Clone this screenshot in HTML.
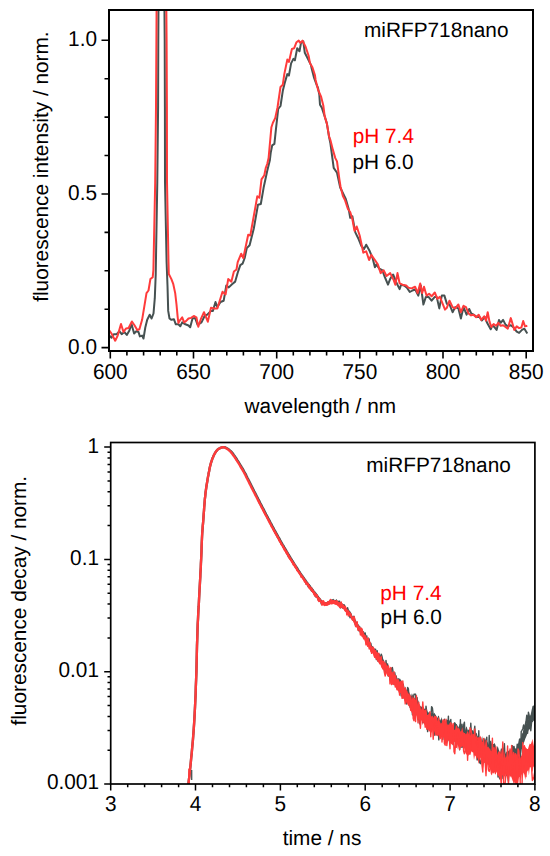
<!DOCTYPE html>
<html><head><meta charset="utf-8"><style>
html,body{margin:0;padding:0;background:#fff;}
svg{display:block;}
.t{font-family:"Liberation Sans", sans-serif;font-size:20.8px;fill:#000;text-rendering:geometricPrecision;}
</style></head><body>
<svg width="550" height="856" viewBox="0 0 550 856">
<defs><clipPath id="ct"><rect x="109" y="10" width="424" height="341"/></clipPath>
<clipPath id="cb"><rect x="110.7" y="442.5" width="424.2" height="341.5"/></clipPath></defs>
<g clip-path="url(#ct)" fill="none" stroke-width="2.0" stroke-linejoin="round">
<polyline stroke="#465151" points="109.4,335.6 111.5,337.8 113.7,334.2 116.6,334.2 119.5,331.3 121.7,334.2 124.3,332.0 126.8,334.9 129.4,330.5 131.5,324.0 134.1,333.5 136.3,331.3 138.5,332.0 139.9,336.4 142.1,335.6 143.5,338.5 145.3,327.5 147.2,319.8 149.7,314.7 151.6,318.5 153.5,313.5 154.8,298.2 155.7,275.0 157.3,182.0 158.1,107.0 158.3,40.0 158.5,5.0 164.4,5.0 164.7,40.0 164.9,107.0 165.0,182.0 166.6,262.0 167.5,285.5 168.2,310.9 169.5,318.5 171.4,319.8 173.9,319.2 175.8,324.3 178.4,324.3 180.3,326.2 182.2,322.4 185.4,324.3 188.5,325.5 190.2,327.3 192.5,318.5 195.1,317.9 197.6,324.9 201.5,322.4 204.6,316.0 207.2,314.7 211.0,310.9 212.9,310.9 215.5,302.0 217.4,307.1 220.5,302.0 223.7,300.7 226.3,285.5 228.8,287.4 232.0,284.2 235.2,281.6 237.7,272.7 240.3,265.1 242.6,263.6 244.7,258.0 246.8,248.1 249.6,245.3 253.8,228.5 258.0,204.7 260.8,204.0 263.6,187.8 267.2,171.0 269.9,160.0 270.7,152.8 272.2,145.4 274.4,143.9 276.0,128.7 278.2,109.0 280.5,106.0 282.8,90.8 285.1,81.6 287.3,74.1 288.9,75.6 291.1,63.4 293.4,58.9 294.9,60.4 297.2,48.2 299.5,51.3 301.0,42.9 303.3,41.4 304.8,52.8 307.1,57.3 310.9,64.9 311.6,68.2 314.1,78.0 316.5,84.5 318.0,88.0 319.3,94.5 320.0,104.7 321.8,107.6 324.7,116.4 326.9,123.6 329.0,136.5 330.4,143.4 333.7,167.9 337.0,172.8 340.2,187.5 343.6,194.5 345.8,198.9 348.7,209.1 350.2,217.8 352.4,216.4 355.3,232.4 358.2,238.2 361.1,245.5 364.0,249.1 366.2,244.7 369.8,251.3 372.7,258.5 374.9,267.3 376.4,264.4 379.3,268.7 382.2,270.2 384.4,276.0 388.0,284.7 390.2,278.9 393.1,274.5 396.7,283.3 399.6,289.1 401.1,284.7 404.0,285.5 406.9,287.6 409.8,292.0 412.5,290.5 415.1,289.3 418.3,295.6 420.8,285.5 423.4,304.5 425.9,296.9 428.5,296.9 431.6,300.7 434.8,296.9 436.7,296.9 439.3,308.4 441.8,295.6 444.4,295.6 446.9,303.9 449.5,304.5 452.6,312.2 455.2,307.1 458.4,308.4 460.9,318.5 463.5,307.1 466.6,314.7 469.2,309.0 471.2,313.4 473.5,314.6 476.5,316.9 479.5,316.9 481.8,320.5 484.8,316.9 487.1,322.8 490.7,329.3 492.5,325.2 494.8,327.6 496.6,329.9 499.0,319.9 500.7,322.8 503.1,319.9 505.5,324.6 507.8,326.4 510.8,325.2 513.7,327.6 516.7,331.7 519.1,332.9 522.0,329.9 524.4,328.7 527.3,333.5"/>
<polyline stroke="#ff3b3b" points="109.4,330.5 111.5,333.5 115.2,340.7 117.7,335.6 121.0,324.0 123.5,332.0 126.1,328.4 128.6,328.0 131.9,321.5 134.3,325.0 137.3,330.0 139.4,329.2 142.1,319.8 144.0,308.4 146.5,293.1 148.5,290.5 150.4,279.1 152.7,277.2 153.4,270.0 155.2,182.0 156.0,107.0 156.4,40.0 156.6,5.0 166.3,5.0 166.6,40.0 166.9,107.0 167.0,182.0 168.5,262.0 168.8,274.0 171.4,279.1 173.3,284.2 175.2,293.1 176.5,304.5 177.7,317.3 178.4,323.0 180.3,319.8 182.2,317.3 184.1,322.4 186.0,321.1 188.5,318.5 191.1,317.9 193.8,316.0 196.4,317.3 198.3,326.8 200.8,319.2 204.0,312.2 207.8,321.7 211.0,307.7 214.2,308.4 217.4,308.4 220.5,298.2 222.5,291.8 225.6,294.4 228.2,279.1 231.4,281.6 233.9,271.5 236.5,269.5 237.7,262.2 241.2,253.7 243.3,258.0 248.2,234.8 250.3,235.5 257.3,196.3 259.4,197.7 261.5,179.4 264.3,175.2 265.7,168.2 267.2,164.0 268.6,158.0 271.4,127.2 272.9,122.7 275.2,118.1 277.5,107.5 280.5,87.0 282.8,84.7 284.3,74.1 287.3,59.6 288.9,61.9 291.9,49.0 294.2,48.2 296.5,42.2 298.7,40.6 300.3,42.9 302.5,40.6 305.6,46.7 308.6,55.8 310.0,63.3 312.4,67.2 314.9,75.0 315.6,80.0 318.2,90.2 321.1,96.7 323.3,105.5 324.7,116.4 326.9,123.6 329.1,136.7 330.4,140.1 332.9,149.9 335.3,158.1 337.0,161.4 339.4,179.3 340.5,186.5 342.9,196.0 345.1,200.4 348.0,209.1 350.2,212.0 352.4,219.3 354.5,230.9 356.7,226.5 359.6,235.3 361.8,245.5 363.3,252.7 366.2,251.3 369.1,260.0 371.3,254.9 374.9,260.0 377.8,264.4 380.7,273.1 383.6,270.2 386.5,276.0 390.2,273.1 393.8,280.4 395.3,284.7 397.5,273.1 399.6,283.3 402.5,284.7 406.2,285.5 408.4,287.6 411.3,288.4 412.5,288.0 415.1,286.7 417.6,293.1 420.2,283.5 422.1,293.1 424.0,286.7 426.5,295.6 429.1,293.7 431.6,296.3 434.8,292.5 437.4,298.8 439.9,296.9 442.5,303.3 445.0,309.6 446.9,307.7 449.5,300.7 452.6,307.1 455.2,308.4 458.4,304.5 460.9,312.2 463.5,305.8 466.0,307.1 468.5,313.5 471.1,315.4 473.6,314.7 476.2,317.3 478.7,314.7 481.2,319.9 484.2,316.3 486.0,320.5 487.7,312.2 489.5,321.6 491.3,327.0 493.6,324.0 496.0,325.8 498.4,322.8 500.7,325.8 503.1,325.2 505.5,327.0 507.8,328.7 510.8,318.1 512.6,324.0 514.3,329.9 516.7,326.4 519.1,328.1 521.4,327.5 523.2,321.0 525.0,326.4 527.3,325.8"/>
</g>
<rect x="109" y="10" width="424" height="341" fill="none" stroke="#000" stroke-width="2"/>
<path d="M110.3 352.0V358.5M126.9 352.0V355.5M143.6 352.0V355.5M160.2 352.0V355.5M176.8 352.0V355.5M193.5 352.0V358.5M210.1 352.0V355.5M226.8 352.0V355.5M243.4 352.0V355.5M260.0 352.0V355.5M276.7 352.0V358.5M293.3 352.0V355.5M309.9 352.0V355.5M326.6 352.0V355.5M343.2 352.0V355.5M359.8 352.0V358.5M376.5 352.0V355.5M393.1 352.0V355.5M409.7 352.0V355.5M426.4 352.0V355.5M443.0 352.0V358.5M459.7 352.0V355.5M476.3 352.0V355.5M492.9 352.0V355.5M509.6 352.0V355.5M526.2 352.0V358.5M108.0 347.6H101.5M108.0 309.2H104.5M108.0 270.8H104.5M108.0 232.4H104.5M108.0 194.0H101.5M108.0 155.5H104.5M108.0 117.1H104.5M108.0 78.7H104.5M108.0 40.3H101.5" stroke="#000" stroke-width="1.6" fill="none"/>
<text transform="translate(110.30 379.10) scale(1 1.04)" text-anchor="middle" class="t">600</text>
<text transform="translate(193.48 379.10) scale(1 1.04)" text-anchor="middle" class="t">650</text>
<text transform="translate(276.66 379.10) scale(1 1.04)" text-anchor="middle" class="t">700</text>
<text transform="translate(359.84 379.10) scale(1 1.04)" text-anchor="middle" class="t">750</text>
<text transform="translate(443.02 379.10) scale(1 1.04)" text-anchor="middle" class="t">800</text>
<text transform="translate(526.20 379.10) scale(1 1.04)" text-anchor="middle" class="t">850</text>
<text transform="translate(97.00 353.60) scale(1 1.04)" text-anchor="end" class="t">0.0</text>
<text transform="translate(97.00 199.95) scale(1 1.04)" text-anchor="end" class="t">0.5</text>
<text transform="translate(97.00 46.30) scale(1 1.04)" text-anchor="end" class="t">1.0</text>
<text x="320.30" y="412.60" text-anchor="middle" class="t">wavelength / nm</text>
<text transform="translate(48.2,166.6) rotate(-90)" text-anchor="middle" class="t">fluorescence intensity / norm.</text>
<text x="364.00" y="37.00" text-anchor="start" class="t">miRFP718nano</text>
<text x="352.70" y="143.00" text-anchor="start" class="t" style="fill:#f00">pH 7.4</text>
<text x="352.40" y="168.60" text-anchor="start" class="t">pH 6.0</text>
<g clip-path="url(#cb)" fill="none" stroke-width="2.4" stroke-linejoin="round">
<polyline stroke="#465151" points="188.0,790.0 188.0,789.4 188.1,788.7 188.1,787.9 188.2,786.8 188.3,785.5 188.4,784.0 188.6,782.3 188.8,780.4 189.1,778.2 189.4,775.8 189.7,773.1 190.0,770.0 190.4,766.4 190.8,762.3 191.2,757.9 191.7,753.3 192.1,748.7 192.5,744.3 192.9,740.2 193.2,736.2 193.5,732.3 193.8,728.1 194.1,723.6 194.4,718.6 194.7,713.0 195.0,707.1 195.3,700.8 195.6,694.2 195.8,687.2 196.1,680.0 196.4,672.1 196.6,663.4 196.8,654.4 197.0,645.6 197.3,637.4 197.5,630.2 197.7,624.2 198.0,619.0 198.2,614.4 198.4,610.2 198.7,606.2 198.9,602.1 199.1,598.0 199.3,594.2 199.5,590.5 199.7,587.0 199.9,583.5 200.1,580.0 200.3,576.6 200.4,573.4 200.6,570.3 200.8,567.0 200.9,563.7 201.1,560.0 201.3,555.8 201.5,551.3 201.6,546.5 201.8,541.8 202.0,537.5 202.2,533.8 202.4,530.8 202.6,528.5 202.7,526.4 202.9,524.5 203.1,522.5 203.3,520.0 203.5,517.1 203.7,513.9 204.0,510.5 204.2,507.2 204.5,504.0 204.7,501.1 204.9,498.6 205.2,496.3 205.4,494.2 205.6,492.2 205.9,490.1 206.2,488.0 206.5,485.8 206.9,483.5 207.3,481.3 207.6,479.1 208.0,476.9 208.4,474.9 208.7,473.0 209.1,471.2 209.4,469.5 209.7,467.9 210.1,466.3 210.5,464.7 210.9,463.1 211.4,461.6 211.9,460.1 212.4,458.6 213.0,457.3 213.5,456.0 214.1,454.8 214.7,453.7 215.3,452.7 215.9,451.7 216.5,450.9 217.1,450.2 217.6,449.6 218.1,449.2 218.6,448.9 219.0,448.7 219.5,448.4 220.0,448.2 220.5,447.9 221.1,447.7 221.7,447.5 222.3,447.3 222.9,447.2 223.5,447.2 224.9,447.3 225.5,447.5 226.1,447.8 226.6,448.1 227.2,448.4 227.8,448.8 228.4,449.2 229.0,449.6 229.6,450.1 230.1,450.6 230.7,451.1 231.3,451.7 231.9,452.4 232.5,453.1 233.1,453.8 233.6,454.7 234.2,455.5 234.8,456.3 235.4,457.1 236.0,458.0 236.6,458.9 237.1,459.8 237.7,460.7 238.3,461.6 238.9,462.5 239.5,463.5 240.1,464.5 240.7,465.5 241.2,466.5 241.8,467.4 242.3,468.3 242.8,469.0 243.3,469.8 243.7,470.6 244.2,471.5 244.8,472.5 245.4,473.7 246.1,474.9 246.7,476.3 247.4,477.7 248.1,479.0 248.8,480.4 249.5,481.7 250.1,483.1 250.8,484.4 251.5,485.7 252.1,487.1 252.8,488.4 253.5,489.7 254.1,491.0 254.8,492.3 255.5,493.6 256.1,494.9 256.8,496.2 257.5,497.5 258.1,498.8 258.8,500.1 259.5,501.4 260.1,502.7 260.8,504.0 261.5,505.3 262.1,506.6 262.8,507.9 263.5,509.1 264.1,510.4 264.8,511.7 265.5,513.0 266.1,514.2 266.8,515.5 267.5,516.8 268.1,518.0 268.8,519.3 269.5,520.6 270.1,521.8 270.8,523.1 271.5,524.3 272.1,525.6 272.8,526.8 273.5,528.0 274.1,529.3 274.8,530.5 275.5,531.7 276.1,532.9 276.8,534.1 277.5,535.3 278.1,536.5 278.8,537.7 279.5,538.9 280.1,540.1 280.8,541.3 281.5,542.5 282.1,543.6 282.8,544.8 283.5,545.9 284.1,547.1 284.8,548.2 285.5,549.3 286.1,550.5 286.8,551.6 287.5,552.8 288.1,553.9 288.8,555.0 289.5,556.1 290.1,557.2 290.8,558.3 291.5,559.4 292.1,560.4 292.8,561.5 293.5,562.6 294.1,563.6 294.8,564.7 295.5,565.7 296.1,566.8 296.8,567.8 297.5,568.8 298.1,569.9 298.8,570.9 299.5,571.9 300.1,572.9 300.8,573.9 301.5,574.9 302.1,575.8 302.8,576.8 303.5,577.7 304.1,578.7 304.8,579.6 305.5,580.5 306.1,581.5 306.8,582.4 307.5,583.3 308.1,584.2 308.8,585.1 309.5,586.0 310.2,586.9 310.8,587.8 311.5,588.6 312.2,589.5 312.8,590.3 313.4,591.1 314.0,591.9 314.6,592.6 315.2,593.4 315.8,594.1 316.3,594.8 316.8,595.5 317.3,596.1 317.7,596.8 318.2,597.4 318.7,598.0 319.2,598.7 319.8,599.4 320.4,600.2 321.0,601.0 321.7,601.8 322.4,602.5 323.0,603.0 323.6,603.4 324.3,603.7 324.9,603.9 325.5,604.0 326.2,604.0 326.8,604.0 327.4,603.9 328.1,603.7 328.7,603.4 329.3,603.0 330.0,602.7 330.6,602.5 331.2,602.3 331.9,602.1 332.5,601.9 333.1,601.8 333.8,601.7 334.4,601.7 335.0,601.8 335.6,601.8 336.2,602.0 336.9,602.2 337.6,602.5 338.3,602.8 339.2,603.3 340.2,603.9"/>
<polygon fill="#465151" points="258.0,499.1 258.9,500.8 259.8,502.5 260.7,504.3 261.6,506.0 262.5,508.0 263.4,509.8 264.3,511.6 265.2,513.3 266.1,515.1 267.0,516.7 267.9,518.3 268.8,520.3 269.7,521.6 270.6,523.4 271.5,525.1 272.4,526.9 273.3,528.5 274.2,529.9 275.1,531.9 276.0,533.1 276.9,534.9 277.8,536.5 278.7,538.3 279.6,539.7 280.5,541.2 281.4,542.6 282.3,544.3 283.2,545.7 284.1,547.2 285.0,548.8 285.9,550.3 286.8,552.2 287.7,553.3 288.6,555.3 289.5,556.5 290.4,558.1 291.3,559.0 292.2,560.7 293.1,562.0 294.0,563.3 294.9,565.0 295.8,566.6 296.7,567.7 297.6,569.4 298.5,570.4 299.4,572.2 300.3,573.3 301.2,574.0 302.1,575.7 303.0,576.8 303.9,578.2 304.8,579.0 305.7,580.7 306.6,582.2 307.5,582.6 308.4,584.3 309.3,585.6 310.2,587.1 311.1,587.6 312.0,588.8 312.9,589.9 313.8,591.0 314.7,592.9 315.6,593.3 316.5,595.0 317.4,595.8 318.3,597.3 319.2,598.3 320.1,599.4 321.0,599.8 321.9,601.1 322.8,601.9 323.7,601.5 324.6,602.5 325.5,602.1 326.4,602.5 327.3,601.5 328.2,601.1 329.1,601.4 330.0,600.3 330.9,601.0 331.8,600.4 332.7,599.8 333.6,600.4 334.5,599.8 335.4,600.1 336.3,601.2 337.2,600.5 338.1,601.6 339.0,602.0 339.9,601.8 340.8,603.8 341.7,602.9 342.6,604.2 343.5,604.1 344.4,605.3 345.3,606.4 346.2,608.0 347.1,609.1 348.0,609.4 348.9,610.0 349.8,610.8 350.7,612.1 351.6,613.4 352.5,616.4 353.4,617.4 354.3,617.8 355.2,619.5 356.1,620.4 357.0,622.6 357.9,623.5 358.8,625.1 359.7,626.2 360.6,628.3 361.5,628.1 362.4,629.7 363.3,631.5 364.2,634.3 365.1,635.2 366.0,636.3 366.9,636.9 367.8,640.1 368.7,641.4 369.6,640.6 370.5,644.2 371.4,644.9 372.3,646.1 373.2,646.7 374.1,649.1 375.0,650.5 375.9,650.1 376.8,653.0 377.7,653.2 378.6,653.0 379.5,654.0 380.4,656.1 381.3,657.0 382.2,658.2 383.1,659.3 384.0,660.3 384.9,663.2 385.8,663.3 386.7,662.8 387.6,664.2 388.5,667.7 389.4,669.3 390.3,668.4 391.2,669.0 392.1,670.2 393.0,673.6 393.9,675.0 394.8,673.1 395.7,676.8 396.6,674.8 397.5,679.3 398.4,680.1 399.3,678.9 400.2,678.8 401.1,680.5 402.0,681.6 402.9,683.0 403.8,684.0 404.7,688.3 405.6,687.2 406.5,689.9 407.4,691.1 408.3,689.8 409.2,692.9 410.1,694.1 411.0,696.7 411.9,693.2 412.8,695.6 413.7,696.8 414.6,697.8 415.5,699.7 416.4,698.3 417.3,703.5 418.2,699.9 419.1,703.4 420.0,705.7 420.9,706.5 421.8,706.7 422.7,705.4 423.6,708.5 424.5,708.7 425.4,708.6 426.3,711.4 427.2,710.5 428.1,712.9 429.0,712.6 429.9,714.2 430.8,712.8 431.7,713.4 432.6,711.9 433.5,714.5 434.4,712.8 435.3,714.2 436.2,716.3 437.1,718.3 438.0,716.2 438.9,715.6 439.8,720.2 440.7,720.6 441.6,716.9 442.5,721.1 443.4,721.2 444.3,719.0 445.2,723.4 446.1,722.6 447.0,721.2 447.9,725.3 448.8,723.0 449.7,724.9 450.6,720.5 451.5,723.6 452.4,725.7 453.3,727.0 454.2,722.1 455.1,722.2 456.0,723.6 456.9,727.0 457.8,724.9 458.7,727.8 459.6,723.5 460.5,726.6 461.4,727.2 462.3,726.0 463.2,727.3 464.1,727.1 465.0,730.7 465.9,727.8 466.8,726.3 467.7,730.9 468.6,729.5 469.5,729.5 470.4,732.4 471.3,734.6 472.2,730.0 473.1,730.5 474.0,734.5 474.9,730.5 475.8,733.9 476.7,732.5 477.6,736.5 478.5,735.5 479.4,737.6 480.3,740.1 481.2,740.9 482.1,736.0 483.0,741.5 483.9,740.3 484.8,737.6 485.7,740.1 486.6,742.3 487.5,741.9 488.4,745.3 489.3,740.9 490.2,741.2 491.1,740.3 492.0,744.2 492.9,744.0 493.8,744.0 494.7,742.9 495.6,745.6 496.5,751.3 497.4,746.0 498.3,747.7 499.2,751.0 500.1,752.9 501.0,748.0 501.9,749.1 502.8,746.7 503.7,748.0 504.6,754.7 505.5,753.4 506.4,751.2 507.3,753.5 508.2,751.0 509.1,750.2 510.0,750.3 510.9,750.8 511.8,749.4 512.7,748.2 513.6,748.0 514.5,751.1 515.4,750.2 516.3,748.4 517.2,743.8 518.1,744.2 519.0,742.8 519.9,737.7 520.8,738.9 521.7,733.4 522.6,733.2 523.5,729.6 524.4,730.9 525.3,723.8 526.2,723.6 527.1,722.8 528.0,719.3 528.9,719.4 529.8,716.2 530.7,714.6 531.6,709.9 532.5,706.1 533.4,705.6 534.3,705.7 535.2,702.5 536.1,699.4 537.0,697.1 537.0,712.5 536.1,712.8 535.2,713.8 534.3,721.2 533.4,720.0 532.5,720.1 531.6,724.5 530.7,724.4 529.8,729.6 528.9,729.5 528.0,732.1 527.1,734.4 526.2,736.8 525.3,738.7 524.4,741.4 523.5,743.8 522.6,747.9 521.7,749.2 520.8,754.7 519.9,753.9 519.0,756.5 518.1,759.8 517.2,760.4 516.3,761.4 515.4,760.9 514.5,761.3 513.6,765.7 512.7,766.9 511.8,772.0 510.9,769.4 510.0,773.8 509.1,773.1 508.2,769.6 507.3,775.7 506.4,776.4 505.5,769.2 504.6,771.7 503.7,773.9 502.8,769.1 501.9,775.9 501.0,770.8 500.1,770.8 499.2,770.6 498.3,769.5 497.4,769.3 496.5,771.2 495.6,770.4 494.7,767.7 493.8,765.6 492.9,771.1 492.0,767.1 491.1,764.9 490.2,768.8 489.3,760.9 488.4,762.1 487.5,764.0 486.6,760.0 485.7,758.8 484.8,763.1 483.9,762.2 483.0,756.8 482.1,760.4 481.2,754.7 480.3,755.1 479.4,758.9 478.5,757.5 477.6,753.8 476.7,752.6 475.8,751.0 474.9,748.7 474.0,750.6 473.1,749.9 472.2,750.6 471.3,751.3 470.4,746.8 469.5,748.3 468.6,748.4 467.7,749.0 466.8,744.4 465.9,743.7 465.0,748.4 464.1,746.1 463.2,742.6 462.3,745.7 461.4,743.1 460.5,741.1 459.6,744.5 458.7,744.7 457.8,744.7 456.9,743.4 456.0,743.6 455.1,740.7 454.2,738.6 453.3,743.4 452.4,741.6 451.5,737.6 450.6,738.9 449.7,739.7 448.8,738.6 447.9,737.1 447.0,738.8 446.1,736.2 445.2,738.8 444.3,733.6 443.4,735.2 442.5,737.4 441.6,737.2 440.7,735.4 439.8,732.2 438.9,731.6 438.0,735.4 437.1,733.3 436.2,729.7 435.3,733.5 434.4,729.4 433.5,730.7 432.6,729.1 431.7,730.1 430.8,728.0 429.9,729.7 429.0,727.8 428.1,724.7 427.2,724.2 426.3,721.5 425.4,722.2 424.5,724.6 423.6,722.8 422.7,723.3 421.8,718.3 420.9,719.3 420.0,716.6 419.1,718.2 418.2,716.2 417.3,716.5 416.4,712.3 415.5,714.0 414.6,712.4 413.7,712.8 412.8,708.5 411.9,708.5 411.0,707.6 410.1,705.8 409.2,704.3 408.3,702.9 407.4,702.6 406.5,699.1 405.6,700.7 404.7,697.0 403.8,698.4 402.9,693.3 402.0,693.7 401.1,690.4 400.2,691.4 399.3,691.2 398.4,690.0 397.5,688.8 396.6,684.9 395.7,683.4 394.8,682.1 393.9,681.3 393.0,681.9 392.1,680.6 391.2,679.8 390.3,679.5 389.4,678.0 388.5,675.5 387.6,675.2 386.7,672.4 385.8,672.7 384.9,669.8 384.0,669.3 383.1,666.4 382.2,666.5 381.3,665.4 380.4,663.2 379.5,662.8 378.6,660.9 377.7,660.4 376.8,658.1 375.9,657.5 375.0,656.6 374.1,654.6 373.2,653.3 372.3,652.7 371.4,650.4 370.5,649.5 369.6,649.0 368.7,645.6 367.8,644.2 366.9,642.4 366.0,642.0 365.1,640.6 364.2,638.5 363.3,638.3 362.4,634.9 361.5,635.2 360.6,633.7 359.7,632.3 358.8,629.5 357.9,629.2 357.0,627.9 356.1,625.4 355.2,625.2 354.3,623.0 353.4,621.2 352.5,620.7 351.6,619.0 350.7,618.2 349.8,616.4 348.9,614.1 348.0,613.6 347.1,612.2 346.2,611.6 345.3,610.9 344.4,610.4 343.5,608.4 342.6,608.8 341.7,608.2 340.8,607.5 339.9,605.7 339.0,605.5 338.1,604.9 337.2,604.2 336.3,603.9 335.4,603.7 334.5,603.9 333.6,603.1 332.7,604.0 331.8,603.3 330.9,603.4 330.0,604.0 329.1,604.6 328.2,604.3 327.3,605.0 326.4,605.2 325.5,604.9 324.6,605.1 323.7,604.6 322.8,604.3 321.9,604.5 321.0,602.6 320.1,602.0 319.2,601.2 318.3,599.8 317.4,598.6 316.5,597.5 315.6,596.9 314.7,594.7 313.8,594.3 312.9,592.7 312.0,591.6 311.1,590.0 310.2,589.4 309.3,588.2 308.4,586.4 307.5,585.7 306.6,584.2 305.7,583.4 304.8,582.0 303.9,580.8 303.0,579.5 302.1,578.1 301.2,576.7 300.3,575.9 299.4,574.5 298.5,572.4 297.6,571.3 296.7,569.6 295.8,568.2 294.9,567.6 294.0,566.1 293.1,564.1 292.2,562.5 291.3,561.0 290.4,560.1 289.5,558.2 288.6,557.2 287.7,555.8 286.8,553.6 285.9,552.4 285.0,550.6 284.1,549.3 283.2,548.0 282.3,545.9 281.4,544.9 280.5,543.3 279.6,541.7 278.7,539.8 277.8,538.1 276.9,536.4 276.0,534.8 275.1,533.0 274.2,531.3 273.3,530.1 272.4,528.4 271.5,526.8 270.6,525.0 269.7,523.1 268.8,521.2 267.9,519.8 267.0,517.8 266.1,516.4 265.2,514.8 264.3,512.7 263.4,511.1 262.5,509.4 261.6,508.1 260.7,506.5 259.8,504.6 258.9,502.9 258.0,501.1"/>
<polyline stroke="#465151" stroke-width="1.4" points="258.0,499.9 258.8,501.8 259.6,503.4 260.4,505.1 261.2,506.0 262.0,507.6 262.8,509.1 263.6,510.7 264.4,512.7 265.2,513.6 266.0,515.5 266.8,516.7 267.6,518.3 268.4,520.0 269.2,521.9 270.0,523.2 270.8,523.9 271.6,525.8 272.4,527.0 273.2,529.5 274.0,530.9 274.8,532.4 275.6,533.9 276.4,535.2 277.2,537.0 278.0,538.2 278.8,538.7 279.6,541.2 280.4,542.0 281.2,543.9 282.0,544.9 282.8,546.0 283.6,547.2 284.4,548.7 285.2,549.8 286.0,550.7 286.8,553.7 287.6,555.0 288.4,556.9 289.2,557.4 290.0,558.4 290.8,560.2 291.6,559.9 292.4,562.6 293.2,563.2 294.0,563.7 294.8,565.0 295.6,567.2 296.4,567.7 297.2,569.5 298.0,571.2 298.8,571.7 299.6,572.1 300.4,574.4 301.2,574.7 302.0,575.9 302.8,576.8 303.6,578.6 304.4,578.6 305.2,581.8 306.0,584.0 306.8,583.0 307.6,585.4 308.4,587.3 309.2,584.9 310.0,586.3 310.8,589.9 311.6,591.1 312.4,591.4 313.2,590.4 314.0,592.5 314.8,595.4 315.6,596.6 316.4,597.3 317.2,595.8 318.0,599.7 318.8,598.6 319.6,601.0 320.4,599.3 321.2,604.0 322.0,603.3 322.8,604.2 323.6,602.0 324.4,604.1 325.2,604.2 326.0,604.4 326.8,603.0 327.6,604.5 328.4,602.3 329.2,601.7 330.0,600.7 330.8,603.2 331.6,600.1 332.4,600.5 333.2,599.5 334.0,602.6 334.8,602.4 335.6,602.5 336.4,599.9 337.2,602.4 338.0,602.2 338.8,601.2 339.6,601.1 340.4,607.8 341.2,602.8 342.0,604.4 342.8,604.7 343.6,607.6 344.4,604.9 345.2,608.5 346.0,608.6 346.8,612.8 347.6,607.7 348.4,611.0 349.2,613.0 350.0,617.7 350.8,615.4 351.6,616.3 352.4,619.0 353.2,617.2 354.0,616.2 354.8,621.3 355.6,626.0 356.4,625.7 357.2,622.8 358.0,627.9 358.8,630.7 359.6,626.5 360.4,630.9 361.2,629.9 362.0,630.1 362.8,631.7 363.6,632.2 364.4,635.0 365.2,633.0 366.0,638.0 366.8,636.0 367.6,644.5 368.4,644.1 369.2,638.9 370.0,648.6 370.8,643.2 371.6,647.7 372.4,649.8 373.2,648.3 374.0,648.9 374.8,651.9 375.6,649.2 376.4,659.6 377.2,650.8 378.0,661.2 378.8,654.0 379.6,656.1 380.4,658.2 381.2,654.1 382.0,656.3 382.8,660.7 383.6,663.1 384.4,670.8 385.2,673.8 386.0,660.4 386.8,669.3 387.6,664.0 388.4,676.0 389.2,669.3 390.0,679.7 390.8,674.9 391.6,668.7 392.4,667.5 393.2,672.7 394.0,684.5 394.8,672.7 395.6,679.6 396.4,678.7 397.2,679.2 398.0,688.7 398.8,678.7 399.6,689.3 400.4,689.4 401.2,695.8 402.0,688.6 402.8,698.0 403.6,689.2 404.4,693.2 405.2,695.4 406.0,701.5 406.8,704.0 407.6,687.4 408.4,688.9 409.2,699.3 410.0,707.2 410.8,701.6 411.6,696.9 412.4,714.8 413.2,698.9 414.0,694.3 414.8,694.1 415.6,694.3 416.4,713.2 417.2,697.8 418.0,714.6 418.8,719.4 419.6,723.8 420.4,719.6 421.2,710.1 422.0,716.2 422.8,722.7 423.6,720.4 424.4,709.6 425.2,723.3 426.0,706.1 426.8,712.1 427.6,731.6 428.4,717.6 429.2,712.5 430.0,727.5 430.8,718.7 431.6,706.6 432.4,707.8 433.2,714.8 434.0,717.4 434.8,735.3 435.6,716.0 436.4,734.0 437.2,734.7 438.0,722.5 438.8,739.9 439.6,733.6 440.4,725.8 441.2,719.6 442.0,725.9 442.8,739.5 443.6,729.0 444.4,719.1 445.2,725.0 446.0,728.4 446.8,720.2 447.6,732.2 448.4,716.1 449.2,740.7 450.0,721.3 450.8,719.4 451.6,734.8 452.4,726.3 453.2,744.7 454.0,732.8 454.8,733.9 455.6,744.1 456.4,724.7 457.2,741.9 458.0,739.1 458.8,732.4 459.6,749.7 460.4,719.8 461.2,747.3 462.0,724.2 462.8,747.2 463.6,725.1 464.4,722.1 465.2,737.2 466.0,751.9 466.8,729.9 467.6,738.1 468.4,742.7 469.2,730.6 470.0,740.9 470.8,723.1 471.6,739.0 472.4,750.5 473.2,735.9 474.0,732.0 474.8,726.3 475.6,750.6 476.4,741.2 477.2,760.0 478.0,754.2 478.8,730.7 479.6,762.3 480.4,763.7 481.2,760.0 482.0,761.3 482.8,756.1 483.6,758.4 484.4,757.0 485.2,754.6 486.0,741.7 486.8,737.2 487.6,762.2 488.4,757.5 489.2,735.5 490.0,760.4 490.8,759.5 491.6,755.8 492.4,767.3 493.2,772.0 494.0,751.6 494.8,770.3 495.6,757.4 496.4,760.9 497.2,754.6 498.0,777.1 498.8,756.8 499.6,778.8 500.4,753.1 501.2,767.8 502.0,778.5 502.8,769.1 503.6,756.3 504.4,743.6 505.2,761.0 506.0,758.5 506.8,775.0 507.6,773.6 508.4,781.1 509.2,760.7 510.0,759.6 510.8,763.9 511.6,769.0 512.4,745.7 513.2,749.3 514.0,746.4 514.8,750.9 515.6,749.1 516.4,767.2 517.2,744.2 518.0,764.0 518.8,743.7 519.6,739.1 520.4,759.4 521.2,731.7 522.0,730.3 522.8,728.7 523.6,724.9 524.4,732.2 525.2,725.1 526.0,721.5 526.8,715.2 527.6,733.3 528.4,712.2 529.2,715.5 530.0,723.3 530.8,730.7 531.6,722.1 532.4,721.5 533.2,719.3 534.0,720.1 534.8,719.8 535.6,697.6 536.4,693.3"/>
<polyline stroke="#ff3b3b" points="188.0,790.0 188.0,789.4 188.1,788.7 188.1,787.9 188.2,786.8 188.3,785.5 188.4,784.0 188.6,782.3 188.8,780.4 189.1,778.2 189.4,775.8 189.7,773.1 190.0,770.0 190.4,766.4 190.8,762.3 191.2,757.9 191.7,753.3 192.1,748.7 192.5,744.3 192.9,740.2 193.2,736.2 193.5,732.3 193.8,728.1 194.1,723.6 194.4,718.6 194.7,713.0 195.0,707.1 195.3,700.8 195.6,694.2 195.8,687.2 196.1,680.0 196.4,672.1 196.6,663.4 196.8,654.4 197.0,645.6 197.3,637.4 197.5,630.2 197.7,624.2 198.0,619.0 198.2,614.4 198.4,610.2 198.7,606.2 198.9,602.1 199.1,598.0 199.3,594.2 199.5,590.5 199.7,587.0 199.9,583.5 200.1,580.0 200.3,576.6 200.4,573.4 200.6,570.3 200.8,567.0 200.9,563.7 201.1,560.0 201.3,555.8 201.5,551.3 201.6,546.5 201.8,541.8 202.0,537.5 202.2,533.8 202.4,530.8 202.6,528.5 202.7,526.4 202.9,524.5 203.1,522.5 203.3,520.0 203.5,517.1 203.7,513.9 204.0,510.5 204.2,507.2 204.5,504.0 204.7,501.1 204.9,498.6 205.2,496.3 205.4,494.2 205.6,492.2 205.9,490.1 206.2,488.0 206.5,485.8 206.9,483.5 207.3,481.3 207.6,479.1 208.0,476.9 208.4,474.9 208.7,473.0 209.1,471.2 209.4,469.5 209.7,467.9 210.1,466.3 210.5,464.7 210.9,463.1 211.4,461.6 211.9,460.1 212.4,458.6 213.0,457.3 213.5,456.0 214.1,454.8 214.7,453.7 215.3,452.7 215.9,451.7 216.5,450.9 217.1,450.2 217.6,449.6 218.1,449.2 218.6,448.9 219.0,448.7 219.5,448.4 220.0,448.2 220.5,447.9 221.1,447.7 221.7,447.5 222.3,447.3 222.9,447.2 223.5,447.2 224.1,447.3 224.7,447.5 225.2,447.8 225.8,448.1 226.4,448.4 227.0,448.8 227.6,449.2 228.2,449.6 228.8,450.1 229.3,450.6 229.9,451.1 230.5,451.7 231.1,452.4 231.7,453.1 232.2,453.8 232.8,454.7 233.4,455.5 234.0,456.3 234.6,457.1 235.2,458.0 235.8,458.9 236.3,459.8 236.9,460.7 237.5,461.6 238.1,462.5 238.7,463.5 239.3,464.5 239.9,465.5 240.4,466.5 241.0,467.4 241.5,468.3 242.0,469.0 242.5,469.8 242.9,470.6 243.4,471.5 244.0,472.5 244.6,473.7 245.3,474.9 245.9,476.3 246.6,477.7 247.3,479.0 248.0,480.4 248.7,481.7 249.3,483.1 250.0,484.4 250.7,485.7 251.3,487.1 252.0,488.4 252.7,489.7 253.3,491.0 254.0,492.3 254.7,493.6 255.3,494.9 256.0,496.2 256.7,497.5 257.3,498.8 258.0,500.1 258.7,501.4 259.3,502.7 260.0,504.0 260.7,505.3 261.3,506.6 262.0,507.9 262.7,509.1 263.3,510.4 264.0,511.7 264.7,513.0 265.3,514.2 266.0,515.5 266.7,516.8 267.3,518.0 268.0,519.3 268.7,520.6 269.3,521.8 270.0,523.1 270.7,524.3 271.3,525.6 272.0,526.8 272.7,528.0 273.3,529.3 274.0,530.5 274.7,531.7 275.3,532.9 276.0,534.1 276.7,535.3 277.3,536.5 278.0,537.7 278.7,538.9 279.3,540.1 280.0,541.3 280.7,542.5 281.3,543.6 282.0,544.8 282.7,545.9 283.3,547.1 284.0,548.2 284.7,549.3 285.3,550.5 286.0,551.6 286.7,552.8 287.3,553.9 288.0,555.0 288.7,556.1 289.3,557.2 290.0,558.3 290.7,559.4 291.3,560.4 292.0,561.5 292.7,562.6 293.3,563.6 294.0,564.7 294.7,565.7 295.3,566.8 296.0,567.8 296.7,568.8 297.3,569.9 298.0,570.9 298.7,571.9 299.3,572.9 300.0,573.9 300.7,574.9 301.3,575.8 302.0,576.8 302.7,577.7 303.3,578.7 304.0,579.6 304.7,580.5 305.3,581.5 306.0,582.4 306.7,583.3 307.3,584.2 308.0,585.1 308.7,586.0 309.4,586.9 310.0,587.8 310.7,588.6 311.4,589.5 312.0,590.3 312.6,591.1 313.2,591.9 313.8,592.6 314.4,593.4 315.0,594.1 315.5,594.8 316.0,595.5 316.5,596.1 316.9,596.8 317.4,597.4 317.9,598.0 318.4,598.7 319.0,599.4 319.6,600.2 320.2,601.0 320.9,601.8 321.6,602.5 322.2,603.0 322.8,603.4 323.5,603.7 324.1,603.9 324.7,604.0 325.4,604.0 326.0,604.0 326.6,603.9 327.3,603.7 327.9,603.4 328.5,603.0 329.2,602.7 329.8,602.5 330.4,602.3 331.1,602.1 331.7,602.0 332.3,601.9 333.0,601.8 333.6,601.8 334.2,601.9 334.8,602.0 335.4,602.1 336.1,602.3 336.8,602.6 337.5,603.0 338.4,603.5 339.4,604.2"/>
<polygon fill="#ff3b3b" points="258.0,498.9 258.9,500.7 259.8,502.4 260.7,504.2 261.6,505.8 262.5,508.0 263.4,509.9 264.3,511.6 265.2,513.6 266.1,515.1 267.0,516.6 267.9,518.2 268.8,520.0 269.7,522.1 270.6,523.6 271.5,524.8 272.4,526.9 273.3,528.4 274.2,530.2 275.1,531.5 276.0,533.0 276.9,535.0 277.8,536.7 278.7,538.2 279.6,540.0 280.5,541.4 281.4,542.5 282.3,544.4 283.2,545.7 284.1,547.0 285.0,548.7 285.9,550.8 286.8,552.0 287.7,553.8 288.6,555.2 289.5,556.6 290.4,557.4 291.3,559.4 292.2,560.6 293.1,562.4 294.0,563.2 294.9,565.3 295.8,566.7 296.7,567.5 297.6,569.1 298.5,570.3 299.4,571.9 300.3,573.5 301.2,574.1 302.1,575.9 303.0,576.3 303.9,578.2 304.8,579.2 305.7,580.6 306.6,582.3 307.5,583.5 308.4,583.8 309.3,585.1 310.2,586.3 311.1,588.1 312.0,589.2 312.9,590.2 313.8,590.5 314.7,591.6 315.6,593.4 316.5,594.6 317.4,595.9 318.3,597.1 319.2,597.4 320.1,599.0 321.0,600.5 321.9,600.6 322.8,601.7 323.7,601.3 324.6,601.7 325.5,602.3 326.4,602.4 327.3,601.3 328.2,601.6 329.1,600.8 330.0,601.4 330.9,600.8 331.8,600.3 332.7,599.9 333.6,600.2 334.5,599.8 335.4,600.7 336.3,600.1 337.2,600.2 338.1,601.3 339.0,602.5 339.9,601.8 340.8,602.7 341.7,603.2 342.6,603.7 343.5,604.6 344.4,605.7 345.3,606.6 346.2,608.7 347.1,608.9 348.0,610.3 348.9,610.5 349.8,611.9 350.7,614.0 351.6,614.8 352.5,616.4 353.4,617.2 354.3,618.2 355.2,620.3 356.1,622.2 357.0,622.9 357.9,624.7 358.8,625.6 359.7,626.4 360.6,628.0 361.5,629.3 362.4,630.1 363.3,631.5 364.2,634.1 365.1,635.0 366.0,635.5 366.9,637.9 367.8,638.5 368.7,642.1 369.6,642.2 370.5,643.4 371.4,645.4 372.3,647.2 373.2,646.2 374.1,647.5 375.0,649.9 375.9,650.0 376.8,652.8 377.7,652.0 378.6,655.3 379.5,657.0 380.4,656.9 381.3,656.8 382.2,660.6 383.1,660.9 384.0,660.3 384.9,663.5 385.8,662.1 386.7,664.8 387.6,666.0 388.5,666.9 389.4,667.9 390.3,669.9 391.2,671.9 392.1,672.3 393.0,672.1 393.9,676.2 394.8,675.5 395.7,674.6 396.6,679.6 397.5,678.9 398.4,678.7 399.3,680.9 400.2,682.4 401.1,681.3 402.0,685.0 402.9,687.3 403.8,685.4 404.7,688.6 405.6,686.6 406.5,690.0 407.4,691.1 408.3,694.2 409.2,691.7 410.1,696.2 411.0,694.2 411.9,699.8 412.8,695.4 413.7,698.0 414.6,698.0 415.5,700.1 416.4,700.5 417.3,704.0 418.2,705.8 419.1,705.0 420.0,704.6 420.9,708.7 421.8,709.8 422.7,707.6 423.6,706.5 424.5,710.2 425.4,710.1 426.3,708.6 427.2,714.9 428.1,714.8 429.0,713.1 429.9,713.4 430.8,715.9 431.7,716.6 432.6,715.5 433.5,717.9 434.4,715.2 435.3,715.9 436.2,720.8 437.1,721.3 438.0,718.5 438.9,717.1 439.8,721.3 440.7,723.8 441.6,724.1 442.5,718.4 443.4,723.9 444.3,719.1 445.2,720.6 446.1,722.4 447.0,725.6 447.9,723.4 448.8,725.5 449.7,722.8 450.6,723.4 451.5,723.5 452.4,725.7 453.3,724.9 454.2,729.9 455.1,729.5 456.0,724.7 456.9,726.0 457.8,728.5 458.7,727.7 459.6,729.1 460.5,731.8 461.4,730.4 462.3,727.0 463.2,732.0 464.1,733.0 465.0,732.9 465.9,734.9 466.8,732.8 467.7,730.7 468.6,732.9 469.5,736.1 470.4,735.2 471.3,732.1 472.2,736.9 473.1,737.1 474.0,736.1 474.9,737.0 475.8,736.8 476.7,735.1 477.6,740.7 478.5,736.9 479.4,737.8 480.3,735.5 481.2,744.3 482.1,741.8 483.0,741.2 483.9,742.1 484.8,746.7 485.7,739.8 486.6,740.1 487.5,747.3 488.4,746.5 489.3,748.5 490.2,748.4 491.1,751.5 492.0,750.6 492.9,749.0 493.8,752.5 494.7,752.8 495.6,745.3 496.5,746.4 497.4,755.1 498.3,751.0 499.2,752.6 500.1,749.6 501.0,754.2 501.9,749.6 502.8,757.0 503.7,757.8 504.6,750.7 505.5,757.7 506.4,756.7 507.3,755.1 508.2,757.1 509.1,752.7 510.0,757.8 510.9,756.3 511.8,756.0 512.7,752.8 513.6,751.5 514.5,753.1 515.4,756.4 516.3,754.4 517.2,753.9 518.1,758.7 519.0,756.8 519.9,759.2 520.8,756.4 521.7,755.3 522.6,749.6 523.5,756.3 524.4,754.4 525.3,746.2 526.2,747.9 527.1,748.9 528.0,749.1 528.9,745.7 529.8,743.4 530.7,744.6 531.6,741.9 532.5,738.7 533.4,746.3 534.3,737.2 535.2,741.7 536.1,738.2 537.0,740.7 537.0,771.9 536.1,771.5 535.2,766.4 534.3,767.1 533.4,766.4 532.5,772.2 531.6,769.3 530.7,767.3 529.8,767.3 528.9,775.6 528.0,768.0 527.1,772.4 526.2,771.9 525.3,780.0 524.4,774.7 523.5,772.4 522.6,778.4 521.7,774.1 520.8,781.1 519.9,776.8 519.0,777.2 518.1,784.8 517.2,783.4 516.3,785.8 515.4,784.2 514.5,781.5 513.6,782.1 512.7,780.9 511.8,778.3 510.9,776.0 510.0,777.6 509.1,775.1 508.2,775.0 507.3,779.9 506.4,774.8 505.5,774.6 504.6,776.7 503.7,781.0 502.8,776.0 501.9,774.6 501.0,776.3 500.1,780.4 499.2,777.0 498.3,776.0 497.4,775.1 496.5,771.5 495.6,774.7 494.7,773.6 493.8,770.9 492.9,772.5 492.0,771.7 491.1,775.7 490.2,766.3 489.3,769.2 488.4,765.2 487.5,764.3 486.6,763.5 485.7,766.8 484.8,762.1 483.9,763.8 483.0,768.8 482.1,759.4 481.2,765.2 480.3,757.5 479.4,760.4 478.5,764.0 477.6,757.1 476.7,760.4 475.8,755.8 474.9,755.2 474.0,760.1 473.1,752.0 472.2,751.0 471.3,751.6 470.4,755.1 469.5,754.4 468.6,756.0 467.7,753.2 466.8,754.7 465.9,753.9 465.0,749.9 464.1,747.9 463.2,747.4 462.3,746.1 461.4,747.4 460.5,745.4 459.6,744.5 458.7,746.6 457.8,749.6 456.9,742.7 456.0,745.8 455.1,742.2 454.2,741.8 453.3,744.1 452.4,745.0 451.5,744.2 450.6,743.1 449.7,744.1 448.8,739.9 447.9,740.9 447.0,740.3 446.1,739.9 445.2,737.9 444.3,741.0 443.4,736.7 442.5,740.1 441.6,735.9 440.7,739.3 439.8,739.3 438.9,736.6 438.0,734.4 437.1,732.9 436.2,735.9 435.3,735.2 434.4,731.3 433.5,731.9 432.6,729.7 431.7,733.1 430.8,731.1 429.9,730.9 429.0,732.1 428.1,729.6 427.2,729.4 426.3,726.6 425.4,726.6 424.5,724.6 423.6,722.5 422.7,725.3 421.8,720.1 420.9,721.1 420.0,718.1 419.1,717.9 418.2,719.7 417.3,720.6 416.4,714.9 415.5,718.9 414.6,713.5 413.7,711.5 412.8,716.2 411.9,713.1 411.0,711.3 410.1,710.7 409.2,705.0 408.3,706.5 407.4,703.7 406.5,703.4 405.6,699.9 404.7,701.7 403.8,698.5 402.9,699.1 402.0,697.6 401.1,693.3 400.2,692.9 399.3,694.0 398.4,691.5 397.5,690.0 396.6,689.7 395.7,687.4 394.8,687.8 393.9,683.8 393.0,684.0 392.1,681.9 391.2,681.4 390.3,679.4 389.4,678.1 388.5,676.1 387.6,676.6 386.7,674.6 385.8,672.5 384.9,670.6 384.0,669.5 383.1,670.6 382.2,667.8 381.3,667.6 380.4,664.6 379.5,664.5 378.6,662.8 377.7,661.7 376.8,660.0 375.9,659.4 375.0,657.2 374.1,657.8 373.2,654.8 372.3,653.1 371.4,652.1 370.5,652.0 369.6,648.4 368.7,648.1 367.8,645.0 366.9,644.4 366.0,644.5 365.1,641.9 364.2,639.3 363.3,639.0 362.4,636.9 361.5,636.8 360.6,633.7 359.7,631.7 358.8,630.0 357.9,630.4 357.0,627.9 356.1,626.4 355.2,626.1 354.3,624.0 353.4,622.2 352.5,620.0 351.6,619.0 350.7,617.5 349.8,616.2 348.9,614.8 348.0,615.0 347.1,613.9 346.2,611.9 345.3,611.9 344.4,610.9 343.5,609.2 342.6,608.7 341.7,607.4 340.8,607.7 339.9,606.6 339.0,606.6 338.1,605.5 337.2,605.6 336.3,604.9 335.4,604.8 334.5,604.5 333.6,603.9 332.7,604.3 331.8,604.4 330.9,604.4 330.0,604.3 329.1,604.7 328.2,605.6 327.3,605.5 326.4,605.6 325.5,605.9 324.6,605.7 323.7,605.4 322.8,605.2 321.9,604.8 321.0,603.0 320.1,602.1 319.2,601.4 318.3,600.8 317.4,598.5 316.5,597.5 315.6,596.8 314.7,595.3 313.8,594.6 312.9,592.9 312.0,592.2 311.1,590.5 310.2,589.8 309.3,588.8 308.4,586.6 307.5,585.8 306.6,585.1 305.7,583.2 304.8,582.4 303.9,580.5 303.0,579.6 302.1,577.7 301.2,577.5 300.3,575.3 299.4,573.9 298.5,572.7 297.6,571.9 296.7,570.5 295.8,568.5 294.9,567.7 294.0,566.2 293.1,564.6 292.2,563.2 291.3,561.4 290.4,560.4 289.5,558.8 288.6,557.5 287.7,555.2 286.8,554.1 285.9,552.7 285.0,551.2 284.1,549.0 283.2,547.5 282.3,546.2 281.4,544.6 280.5,542.9 279.6,541.6 278.7,539.9 277.8,537.9 276.9,536.3 276.0,534.8 275.1,533.6 274.2,531.9 273.3,530.1 272.4,528.6 271.5,526.8 270.6,524.7 269.7,523.4 268.8,521.3 267.9,519.6 267.0,517.9 266.1,516.6 265.2,514.5 264.3,513.0 263.4,511.1 262.5,509.3 261.6,508.3 260.7,506.5 259.8,504.8 258.9,503.1 258.0,501.3"/>
<polyline stroke="#ff3b3b" stroke-width="1.4" points="258.0,500.6 258.8,501.2 259.6,503.5 260.4,504.4 261.2,506.9 262.0,507.3 262.8,509.8 263.6,511.2 264.4,512.9 265.2,514.6 266.0,515.2 266.8,516.8 267.6,518.8 268.4,519.7 269.2,521.2 270.0,522.6 270.8,525.1 271.6,526.7 272.4,528.0 273.2,528.5 274.0,531.2 274.8,531.9 275.6,532.9 276.4,534.7 277.2,536.1 278.0,536.8 278.8,539.3 279.6,540.3 280.4,542.1 281.2,544.4 282.0,545.1 282.8,545.9 283.6,548.4 284.4,550.2 285.2,550.2 286.0,552.8 286.8,551.6 287.6,553.3 288.4,554.7 289.2,558.3 290.0,558.8 290.8,560.2 291.6,560.2 292.4,562.1 293.2,564.7 294.0,563.3 294.8,564.6 295.6,565.6 296.4,568.3 297.2,570.9 298.0,571.1 298.8,571.7 299.6,573.3 300.4,573.2 301.2,577.3 302.0,576.2 302.8,576.8 303.6,578.3 304.4,581.5 305.2,580.5 306.0,584.1 306.8,582.8 307.6,584.3 308.4,583.8 309.2,588.5 310.0,589.0 310.8,588.6 311.6,588.0 312.4,590.8 313.2,591.3 314.0,594.5 314.8,596.0 315.6,596.1 316.4,595.0 317.2,594.8 318.0,600.1 318.8,601.4 319.6,598.3 320.4,601.0 321.2,601.8 322.0,605.3 322.8,600.7 323.6,601.0 324.4,605.5 325.2,604.2 326.0,603.8 326.8,605.3 327.6,603.9 328.4,604.2 329.2,601.3 330.0,600.0 330.8,599.4 331.6,601.2 332.4,602.9 333.2,601.1 334.0,601.0 334.8,602.9 335.6,603.7 336.4,603.3 337.2,601.7 338.0,605.5 338.8,605.9 339.6,607.1 340.4,607.7 341.2,602.0 342.0,607.2 342.8,605.4 343.6,606.4 344.4,608.3 345.2,606.3 346.0,608.0 346.8,614.8 347.6,610.4 348.4,616.1 349.2,615.1 350.0,613.0 350.8,614.2 351.6,618.0 352.4,620.1 353.2,618.0 354.0,616.5 354.8,618.7 355.6,626.6 356.4,626.6 357.2,621.7 358.0,630.3 358.8,629.0 359.6,627.8 360.4,635.0 361.2,628.1 362.0,628.9 362.8,632.9 363.6,638.7 364.4,637.9 365.2,638.5 366.0,644.8 366.8,640.1 367.6,646.2 368.4,637.9 369.2,648.9 370.0,642.2 370.8,649.8 371.6,653.4 372.4,652.2 373.2,652.4 374.0,653.3 374.8,657.3 375.6,653.1 376.4,652.2 377.2,657.9 378.0,658.3 378.8,653.2 379.6,660.5 380.4,660.5 381.2,656.5 382.0,666.4 382.8,668.7 383.6,662.6 384.4,672.7 385.2,676.1 386.0,671.7 386.8,668.5 387.6,667.3 388.4,665.8 389.2,669.5 390.0,683.9 390.8,667.4 391.6,684.6 392.4,681.5 393.2,684.2 394.0,671.7 394.8,683.6 395.6,675.7 396.4,686.3 397.2,689.8 398.0,689.4 398.8,686.6 399.6,695.1 400.4,682.0 401.2,681.3 402.0,698.3 402.8,680.9 403.6,690.4 404.4,691.6 405.2,703.9 406.0,692.6 406.8,698.7 407.6,698.2 408.4,698.8 409.2,699.8 410.0,700.8 410.8,705.4 411.6,702.1 412.4,703.0 413.2,718.4 414.0,720.7 414.8,700.5 415.6,721.6 416.4,695.6 417.2,705.4 418.0,722.9 418.8,702.2 419.6,717.8 420.4,728.3 421.2,717.7 422.0,714.0 422.8,701.9 423.6,715.4 424.4,716.6 425.2,727.3 426.0,715.8 426.8,729.2 427.6,717.4 428.4,725.1 429.2,729.5 430.0,711.6 430.8,736.8 431.6,721.6 432.4,723.1 433.2,739.3 434.0,727.1 434.8,726.0 435.6,716.7 436.4,717.5 437.2,735.5 438.0,727.8 438.8,733.4 439.6,735.0 440.4,735.0 441.2,723.6 442.0,742.0 442.8,728.7 443.6,719.9 444.4,743.5 445.2,745.2 446.0,719.2 446.8,745.6 447.6,739.4 448.4,725.5 449.2,736.4 450.0,748.8 450.8,722.6 451.6,740.6 452.4,726.4 453.2,723.5 454.0,751.8 454.8,753.8 455.6,742.1 456.4,747.3 457.2,733.5 458.0,735.0 458.8,742.0 459.6,749.5 460.4,745.8 461.2,737.7 462.0,743.8 462.8,735.9 463.6,751.1 464.4,753.7 465.2,750.7 466.0,734.4 466.8,737.0 467.6,760.2 468.4,737.8 469.2,749.3 470.0,727.7 470.8,729.5 471.6,733.5 472.4,751.6 473.2,734.4 474.0,752.0 474.8,728.9 475.6,754.7 476.4,755.9 477.2,738.1 478.0,737.9 478.8,739.0 479.6,749.9 480.4,737.3 481.2,740.0 482.0,765.4 482.8,772.0 483.6,738.5 484.4,755.0 485.2,761.9 486.0,775.8 486.8,758.8 487.6,758.2 488.4,770.0 489.2,771.5 490.0,768.4 490.8,764.7 491.6,774.0 492.4,738.3 493.2,772.8 494.0,747.6 494.8,754.2 495.6,756.6 496.4,763.0 497.2,766.7 498.0,767.0 498.8,754.6 499.6,757.2 500.4,771.7 501.2,785.2 502.0,759.4 502.8,742.0 503.6,782.9 504.4,784.7 505.2,782.7 506.0,773.0 506.8,762.7 507.6,745.9 508.4,787.3 509.2,764.1 510.0,749.0 510.8,773.5 511.6,745.5 512.4,762.4 513.2,773.0 514.0,782.9 514.8,761.4 515.6,753.6 516.4,761.0 517.2,784.5 518.0,748.9 518.8,750.7 519.6,760.2 520.4,789.3 521.2,785.2 522.0,788.7 522.8,742.5 523.6,764.2 524.4,745.8 525.2,767.0 526.0,776.6 526.8,760.4 527.6,770.1 528.4,768.9 529.2,759.5 530.0,752.9 530.8,744.6 531.6,768.1 532.4,780.5 533.2,779.1 534.0,776.2 534.8,771.7 535.6,761.9 536.4,753.8"/>
<path d="M191.7 770V780" stroke="#465151" stroke-width="1.3"/>
<path d="M189.1 768.5V784.5" stroke="#ff3b3b" stroke-width="1.8"/>
</g>
<rect x="110.7" y="442.5" width="424.2" height="341.5" fill="none" stroke="#000" stroke-width="1.7"/>
<path d="M110.7 784.0V790.5M127.7 784.0V787.2M144.6 784.0V787.2M161.6 784.0V787.2M178.6 784.0V787.2M195.5 784.0V790.5M212.5 784.0V787.2M229.5 784.0V787.2M246.4 784.0V787.2M263.4 784.0V787.2M280.4 784.0V790.5M297.3 784.0V787.2M314.3 784.0V787.2M331.3 784.0V787.2M348.3 784.0V787.2M365.2 784.0V790.5M382.2 784.0V787.2M399.2 784.0V787.2M416.1 784.0V787.2M433.1 784.0V787.2M450.1 784.0V790.5M467.0 784.0V787.2M484.0 784.0V787.2M501.0 784.0V787.2M517.9 784.0V787.2M534.9 784.0V790.5M110.7 784.0H104.2M110.7 750.2H107.5M110.7 730.4H107.5M110.7 716.4H107.5M110.7 705.5H107.5M110.7 696.6H107.5M110.7 689.1H107.5M110.7 682.6H107.5M110.7 676.8H107.5M110.7 671.7H104.2M110.7 637.9H107.5M110.7 618.1H107.5M110.7 604.1H107.5M110.7 593.2H107.5M110.7 584.3H107.5M110.7 576.8H107.5M110.7 570.3H107.5M110.7 564.5H107.5M110.7 559.4H104.2M110.7 525.6H107.5M110.7 505.8H107.5M110.7 491.8H107.5M110.7 480.9H107.5M110.7 472.0H107.5M110.7 464.5H107.5M110.7 458.0H107.5M110.7 452.2H107.5M110.7 447.1H104.2" stroke="#000" stroke-width="1.5" fill="none"/>
<text transform="translate(110.70 811.30) scale(1 1.04)" text-anchor="middle" class="t">3</text>
<text transform="translate(195.54 811.30) scale(1 1.04)" text-anchor="middle" class="t">4</text>
<text transform="translate(280.38 811.30) scale(1 1.04)" text-anchor="middle" class="t">5</text>
<text transform="translate(365.22 811.30) scale(1 1.04)" text-anchor="middle" class="t">6</text>
<text transform="translate(450.06 811.30) scale(1 1.04)" text-anchor="middle" class="t">7</text>
<text transform="translate(534.90 811.30) scale(1 1.04)" text-anchor="middle" class="t">8</text>
<text transform="translate(99.00 452.50) scale(1 1.04)" text-anchor="end" class="t">1</text>
<text transform="translate(99.00 564.80) scale(1 1.04)" text-anchor="end" class="t">0.1</text>
<text transform="translate(99.00 677.10) scale(1 1.04)" text-anchor="end" class="t">0.01</text>
<text transform="translate(99.00 789.40) scale(1 1.04)" text-anchor="end" class="t">0.001</text>
<text x="322.00" y="845.40" text-anchor="middle" class="t">time / ns</text>
<text transform="translate(25.8,600.7) rotate(-90)" text-anchor="middle" class="t">fluorescence decay / norm.</text>
<text x="366.30" y="471.90" text-anchor="start" class="t">miRFP718nano</text>
<text x="380.30" y="599.60" text-anchor="start" class="t" style="fill:#f00">pH 7.4</text>
<text x="380.60" y="624.40" text-anchor="start" class="t">pH 6.0</text>
</svg></body></html>
